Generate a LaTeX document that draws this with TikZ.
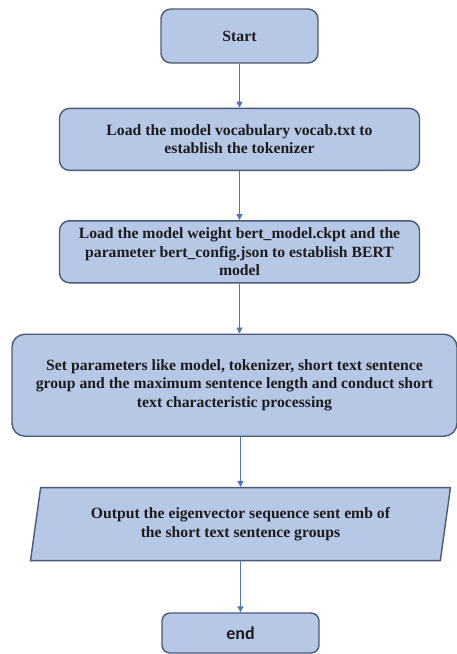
\documentclass[tikz,border=0pt]{standalone}
\usepackage{fontspec}
\setmainfont{Liberation Serif}
\newfontfamily\calfont{Carlito}
\usepackage{xcolor}
\usetikzlibrary{arrows.meta,positioning,shapes.geometric}
\definecolor{boxfill}{HTML}{B6C8E6}
\definecolor{boxline}{HTML}{4A5A78}
\definecolor{flowline}{HTML}{4A74C0}
\definecolor{ink}{HTML}{1C1C1C}

\begin{document}
\begin{tikzpicture}[
    x=1pt, y=1pt,
    ->, >={Triangle[length=6pt,width=6pt]}, % small filled arrow heads
    every edge/.style={draw=flowline, line width=0.9pt},
    node distance=49pt, % gap between the steps
    font=\fontsize{15.7}{18.3}\selectfont\bfseries,
    text=ink,
    stepbox/.style={rectangle, rounded corners=10pt, draw=boxline, line width=1.4pt,
        fill=boxfill, align=center, inner sep=0pt},
    iobox/.style={trapezium, trapezium left angle=77, trapezium right angle=103,
        trapezium stretches=true, draw=boxline, line width=1.4pt,
        fill=boxfill, align=center, inner sep=0pt}
]
\useasboundingbox (0,0) rectangle (457,-654);

% Nodes
\node[stepbox, minimum width=157pt, minimum height=54pt] (S) at (239.5,-36) {Start};
\node[stepbox, minimum width=360pt, minimum height=62pt] (L) [below=44pt of S]
    {Load the model vocabulary vocab.txt to\\establish the tokenizer};
\node[stepbox, minimum width=360pt, minimum height=62pt] (W) [below=of L]
    {Load the model weight bert\_model.ckpt and the\\parameter bert\_config.json to establish BERT\\model};
\node[stepbox, rounded corners=13pt, minimum width=445pt, minimum height=102pt] (P)
    [below=50pt of W, xshift=-5pt]
    {Set parameters like model, tokenizer, short text sentence\\group and the maximum sentence length and conduct short\\text characteristic processing};
\node[iobox, minimum width=421pt, minimum height=73pt] (O) [below=50pt of P, xshift=6pt]
    {Output the eigenvector sequence sent emb of\\the short text sentence groups};
\node[stepbox, rounded corners=8pt, minimum width=157pt, minimum height=40pt,
    font=\calfont\fontsize{18}{20}\selectfont\bfseries] (E) [below=51pt of O] {end};

% Edges
\path (S) edge (L);
\path (L) edge (W);
\path (W) edge (W.south |- P.north);
\path (P.south -| O.north) edge (O);
\path (O) edge (E);

\end{tikzpicture}
\end{document}
